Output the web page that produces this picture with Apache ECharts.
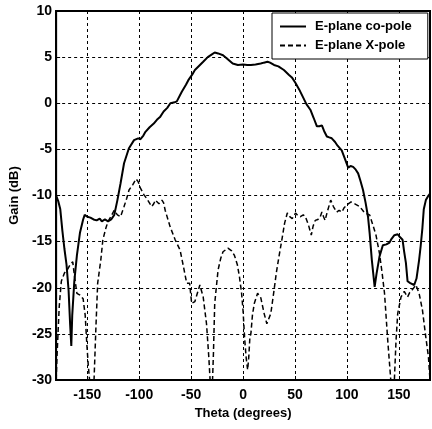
<!DOCTYPE html>
<html>
<head>
<meta charset="utf-8">
<script src="https://cdn.jsdelivr.net/npm/echarts@6/dist/echarts.min.js"></script>
<style>html,body{margin:0;padding:0;background:#fff}#c{width:432px;height:429px}</style>
</head>
<body>
<div id="c"></div>
<script>
var xTicks = [-150, -100, -50, 0, 50, 100, 150];
var seriesNames = ['E-plane co-pole', 'E-plane X-pole'];

var coTheta = [-180,-178,-176,-174,-172,-170,-168,-166.5,-165.4,-164.5,-162.5,-160,-157,-154,-152.5,-150,-147,-144,-141,-138,-136,-133,-130,-127,-124,-121,-118,-114.6,-110,-105,-101,-98.8,-96,-94,-90,-86,-83,-80,-76.5,-73,-70,-66,-63.8,-59,-55,-52.7,-49,-46.4,-42,-38.4,-34,-30,-27.3,-24,-19.3,-15,-10,-5,0,4,7.6,12,17,20,23.5,26,29.8,34,39.3,44,47,50.5,54,58.4,61,64.8,68,71.1,73.5,75.9,78,80.7,83,85.4,88.6,91,95,98,101.3,103.5,106,108.5,110.8,113,115.5,118,120.3,121.9,124,126.7,128.5,131.4,134.6,138,141,143,145.7,148.9,151,153.6,155,156.8,158.4,161,164.8,167,169.5,171,172.7,174,176,178,180];
var coGain = [-10,-10.6,-11.5,-13.8,-15.8,-17.5,-20.3,-24,-26.3,-23,-19.3,-16.5,-14,-12.6,-12.1,-12.3,-12.4,-12.6,-12.7,-12.5,-12.8,-12.6,-12.8,-12.6,-12.1,-10.5,-8.7,-6.5,-4.9,-4.0,-3.8,-3.9,-3.5,-3.1,-2.6,-2.2,-1.8,-1.5,-0.9,-0.5,0.0,0.1,0.2,1.25,2.0,2.5,3.1,3.6,4.1,4.5,5.0,5.3,5.5,5.4,5.2,4.8,4.3,4.15,4.2,4.15,4.15,4.2,4.3,4.4,4.5,4.4,4.15,4.0,3.6,3.1,2.8,2.2,1.5,0.5,-0.1,-0.7,-1.6,-2.5,-2.5,-2.4,-3.0,-3.6,-3.7,-3.8,-4.2,-4.6,-5.1,-6.0,-7.0,-6.8,-6.9,-7.2,-7.6,-8.4,-9.4,-10.8,-12.3,-14.1,-17,-19.9,-18.5,-16.6,-15.4,-15.3,-15.1,-14.7,-14.3,-14.2,-14.5,-14.8,-16,-17.3,-19.3,-19.5,-19.7,-19,-17,-15.5,-13.5,-11.5,-10.5,-10.1,-9.8];

var xpTheta = [-180,-179,-177,-175,-172,-169,-166,-164,-162.5,-160,-157,-154,-152,-150.5,-149,-147.8,-146,-143.5,-141.6,-140,-137,-135,-132,-130,-127.3,-124.1,-121,-118,-114.6,-112,-109.8,-106,-103,-101,-98.8,-95.5,-92.4,-90.8,-88,-86,-84.5,-81,-78.1,-76.5,-75,-70.2,-65.4,-60.7,-57.4,-54.3,-51.5,-49.5,-46.4,-43.5,-41.6,-38.4,-35.2,-33,-31.5,-30,-28.5,-27.3,-24.1,-21.5,-19.3,-14.6,-11,-8.3,-5.5,-3.5,-1.5,0,1.5,3,4.4,5.5,6.5,7.6,9,10.8,14,17.1,20.3,22.9,26.7,29.8,32,34.6,37.8,40,42.6,45,47.3,50.5,53,55.2,58,60,63,65.7,67.5,69.5,72,74.3,75.9,77.5,79,81,84.4,87,90.2,92.5,95,97.5,101.3,104,107.6,112.4,117.1,121.9,125,128,131.4,134,136.2,139.3,141.9,143.5,145.7,147.3,148.9,152.1,155.2,158.4,160.5,163.1,166.4,169.5,172.7,175.9,178.5,180];
var xpGain = [-30,-27,-22,-19.3,-18.4,-18,-17.4,-17.2,-18.6,-20.6,-20.8,-21.2,-23,-26,-28.5,-30,-32,-30,-24,-19.5,-17,-14.8,-13.5,-12.8,-12.3,-11.6,-12.1,-12.3,-11.2,-10.3,-9.4,-8.8,-8.2,-8.5,-9.2,-9.9,-10.4,-10.2,-11.2,-10.9,-10.5,-10.9,-10.5,-10.8,-11.6,-13.4,-14.8,-15.9,-17.7,-19.5,-19.5,-21.7,-21.5,-20.4,-19.7,-21,-23.9,-27.5,-30.5,-32,-27,-21.7,-18.1,-16.8,-16.1,-15.7,-16,-16.5,-17.5,-18.8,-20.5,-22.5,-25.5,-27.6,-28.9,-27.5,-25.5,-24.9,-23,-21.7,-20.6,-21.1,-22.8,-23.9,-22.8,-20.3,-18.4,-16.6,-14.5,-13,-11.9,-12.3,-12.5,-11.9,-12.2,-12.3,-12.1,-12.3,-13.2,-14.3,-13.3,-12.7,-12.6,-12.3,-11.8,-12.3,-12.7,-11.8,-10.5,-11.2,-11.8,-11.6,-11.8,-11.3,-10.9,-10.7,-10.9,-11.2,-11.9,-12.1,-13.2,-14.3,-16.3,-18.5,-20.6,-25.7,-29.5,-32,-30,-25.7,-22.8,-21,-20.4,-21,-20.5,-20.2,-19.7,-20.6,-22.4,-25.3,-27.5,-30];

function pairs(xs, ys) { return xs.map(function (x, i) { return [x, ys[i]]; }); }

var chart = echarts.init(document.getElementById('c'), null, { renderer: 'canvas' });
var FONT = 'Liberation Sans';
var gridLine = { show: true, lineStyle: { color: '#000', width: 1, type: [3, 3] } };
chart.setOption({
  backgroundColor: '#fff',
  animation: false,
  grid: { left: 52, right: 2, top: 11, bottom: 49, show: true, borderColor: '#000', borderWidth: 2, backgroundColor: 'transparent' },
  legend: {
    orient: 'vertical', left: 272, top: 13,
    padding: [7, 16, 7, 7], itemGap: 6, itemWidth: 26, itemHeight: 14,
    backgroundColor: '#fff', borderColor: '#000', borderWidth: 1, borderRadius: 0,
    itemStyle: { opacity: 0 },
    textStyle: { fontFamily: FONT, fontSize: 13, fontWeight: 'bold', color: '#000', padding: [0, 0, 0, 4] },
    data: seriesNames
  },
  xAxis: {
    type: 'value', min: -180, max: 180,
    name: 'Theta (degrees)', nameLocation: 'middle', nameGap: 27,
    nameTextStyle: { fontFamily: FONT, fontSize: 13, fontWeight: 'bold', color: '#000' },
    axisLine: { show: true, onZero: false, lineStyle: { color: '#000', width: 2 } },
    axisTick: { show: true, inside: true, length: 4, customValues: xTicks, lineStyle: { color: '#000' } },
    axisLabel: { customValues: xTicks, margin: 8, fontFamily: FONT, fontSize: 14, fontWeight: 'bold', color: '#000' },
    splitLine: gridLine
  },
  yAxis: {
    type: 'value', min: -30, max: 10, interval: 5,
    name: 'Gain (dB)', nameLocation: 'middle', nameGap: 27, nameRotate: 90,
    nameTextStyle: { fontFamily: FONT, fontSize: 13, fontWeight: 'bold', color: '#000' },
    axisLine: { show: true, onZero: false, lineStyle: { color: '#000', width: 2 } },
    axisTick: { show: true, inside: true, length: 4, lineStyle: { color: '#000' } },
    axisLabel: { margin: 4, fontFamily: FONT, fontSize: 14, fontWeight: 'bold', color: '#000' },
    splitLine: gridLine
  },
  series: [
    { name: seriesNames[0], type: 'line', data: pairs(coTheta, coGain), showSymbol: false, symbol: 'none', clip: true,
      lineStyle: { color: '#000', width: 2 }, itemStyle: { color: '#000' } },
    { name: seriesNames[1], type: 'line', data: pairs(xpTheta, xpGain), showSymbol: false, symbol: 'none', clip: true,
      lineStyle: { color: '#000', width: 1.5, type: [5, 3] }, itemStyle: { color: '#000' } }
  ]
});
</script>
</body>
</html>
